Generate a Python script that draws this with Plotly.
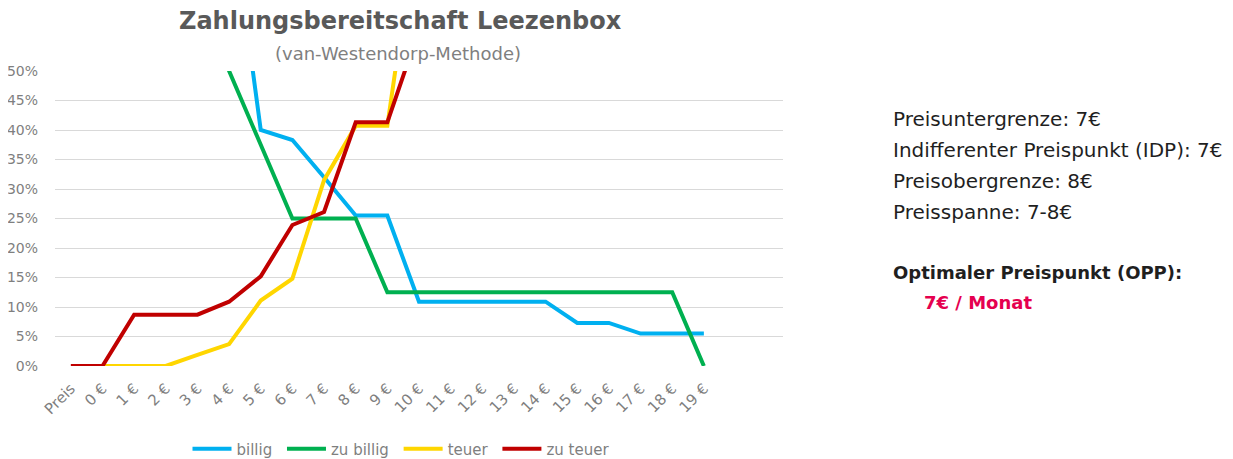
import plotly.graph_objects as go

categories = ["Preis"] + [f"{i} €" for i in range(20)]

# shares (fractions); values above 50 % lie outside the visible range
billig    = [None, 1.00, 0.97, 0.93, 0.87, 0.80, 0.40, 0.383, 0.32, 0.255, 0.255,
             0.109, 0.109, 0.109, 0.109, 0.109, 0.073, 0.073, 0.055, 0.055, 0.055]
zu_billig = [None, 1.00, 0.97, 0.90, 0.75, 0.50, 0.375, 0.25, 0.25, 0.25, 0.125,
             0.125, 0.125, 0.125, 0.125, 0.125, 0.125, 0.125, 0.125, 0.125, 0.0]
teuer     = [None, 0.0, 0.0, 0.0, 0.019, 0.037, 0.111, 0.148, 0.315, 0.407, 0.407,
             0.78, 0.85, 0.88, 0.90, 0.92, 0.94, 0.96, 0.97, 0.98, 1.00]
zu_teuer  = [0.0, 0.0, 0.087, 0.087, 0.087, 0.109, 0.152, 0.239, 0.261, 0.413, 0.413,
             0.57, 0.65, 0.72, 0.78, 0.83, 0.87, 0.90, 0.93, 0.96, 0.98]

series_names = ["billig", "zu billig", "teuer", "zu teuer"]
series_colors = ["#00B0F0", "#00B050", "#FFD600", "#C00000"]
series_values = [billig, zu_billig, teuer, zu_teuer]

info_lines = ["Preisuntergrenze: 7€",
              "Indifferenter Preispunkt (IDP): 7€",
              "Preisobergrenze: 8€",
              "Preisspanne: 7-8€"]
opp_label = "Optimaler Preispunkt (OPP):"
opp_value = "7€ / Monat"

FONT = "DejaVu Sans"
OFF = 8  # page body margin of the browser
W, H = 1233 - OFF, 459 - OFF
# plot area in reference pixels: x 55..783, y 71..366
PL, PR, PT, PB = 55 - OFF, 783 - OFF, 71 - OFF, 366 - OFF
L, R, T, B = PL, W - PR, PT, H - PB
PW, PH = PR - PL, PB - PT

xpos = list(range(len(categories)))

fig = go.Figure()
for i, (name, vals, col) in enumerate(zip(series_names, series_values, series_colors)):
    pad = "\u00a0" if i < len(series_names) - 1 else ""
    fig.add_trace(go.Scatter(x=xpos, y=vals, name=name + pad, mode="lines",
                             line=dict(color=col, width=4),
                             connectgaps=False))

def px_to_paper_x(px):
    return (px - OFF - PL) / PW

def px_to_paper_y(py):
    return (PB - (py - OFF)) / PH

ann = []
ann.append(dict(text="<b>Zahlungsbereitschaft Leezenbox</b>", x=px_to_paper_x(400), y=px_to_paper_y(21),
                xref="paper", yref="paper", showarrow=False, xanchor="center", yanchor="middle",
                font=dict(family=FONT, size=24, color="#595959")))
ann.append(dict(text="(van-Westendorp-Methode)", x=px_to_paper_x(398), y=px_to_paper_y(53),
                xref="paper", yref="paper", showarrow=False, xanchor="center", yanchor="middle",
                font=dict(family=FONT, size=18, color="#7F7F7F")))
for i, t in enumerate(info_lines):
    ann.append(dict(text=t, x=px_to_paper_x(891), y=px_to_paper_y(119 + 31 * i),
                    xref="paper", yref="paper", showarrow=False, xanchor="left", yanchor="middle",
                    font=dict(family=FONT, size=20, color="#1F1F1F")))
ann.append(dict(text=f"<b>{opp_label}</b>", x=px_to_paper_x(891), y=px_to_paper_y(272),
                xref="paper", yref="paper", showarrow=False, xanchor="left", yanchor="middle",
                font=dict(family=FONT, size=18, color="#1F1F1F")))
ann.append(dict(text=f"<b>{opp_value}</b>", x=px_to_paper_x(922), y=px_to_paper_y(302),
                xref="paper", yref="paper", showarrow=False, xanchor="left", yanchor="middle",
                font=dict(family=FONT, size=18, color="#E5004F")))

fig.update_layout(
    width=W, height=H,
    margin=dict(l=L, r=R, t=T, b=B, autoexpand=False),
    paper_bgcolor="white", plot_bgcolor="white",
    font=dict(family=FONT, color="#7F7F7F"),
    annotations=ann,
    showlegend=True,
    legend=dict(orientation="h", x=px_to_paper_x(401), y=px_to_paper_y(449),
                xanchor="center", yanchor="middle",
                font=dict(family=FONT, size=15, color="#7F7F7F"),
                itemwidth=39, tracegroupgap=0),
    xaxis=dict(range=[-0.5, 22.5], tickmode="array", tickvals=xpos, ticktext=categories,
               tickangle=-45, showgrid=False, zeroline=False, showline=False,
               ticks="", ticklabelstandoff=10, automargin=False,
               tickfont=dict(family=FONT, size=15, color="#7F7F7F"), fixedrange=True),
    yaxis=dict(range=[0, 0.5], dtick=0.05, tickformat=".0%", showgrid=True,
               gridcolor="#D9D9D9", gridwidth=1, zeroline=False, showline=False,
               ticks="", ticklabelstandoff=16, automargin=False,
               tickfont=dict(family=FONT, size=14, color="#7F7F7F"), fixedrange=True),
)

fig.write_html("out.html")
